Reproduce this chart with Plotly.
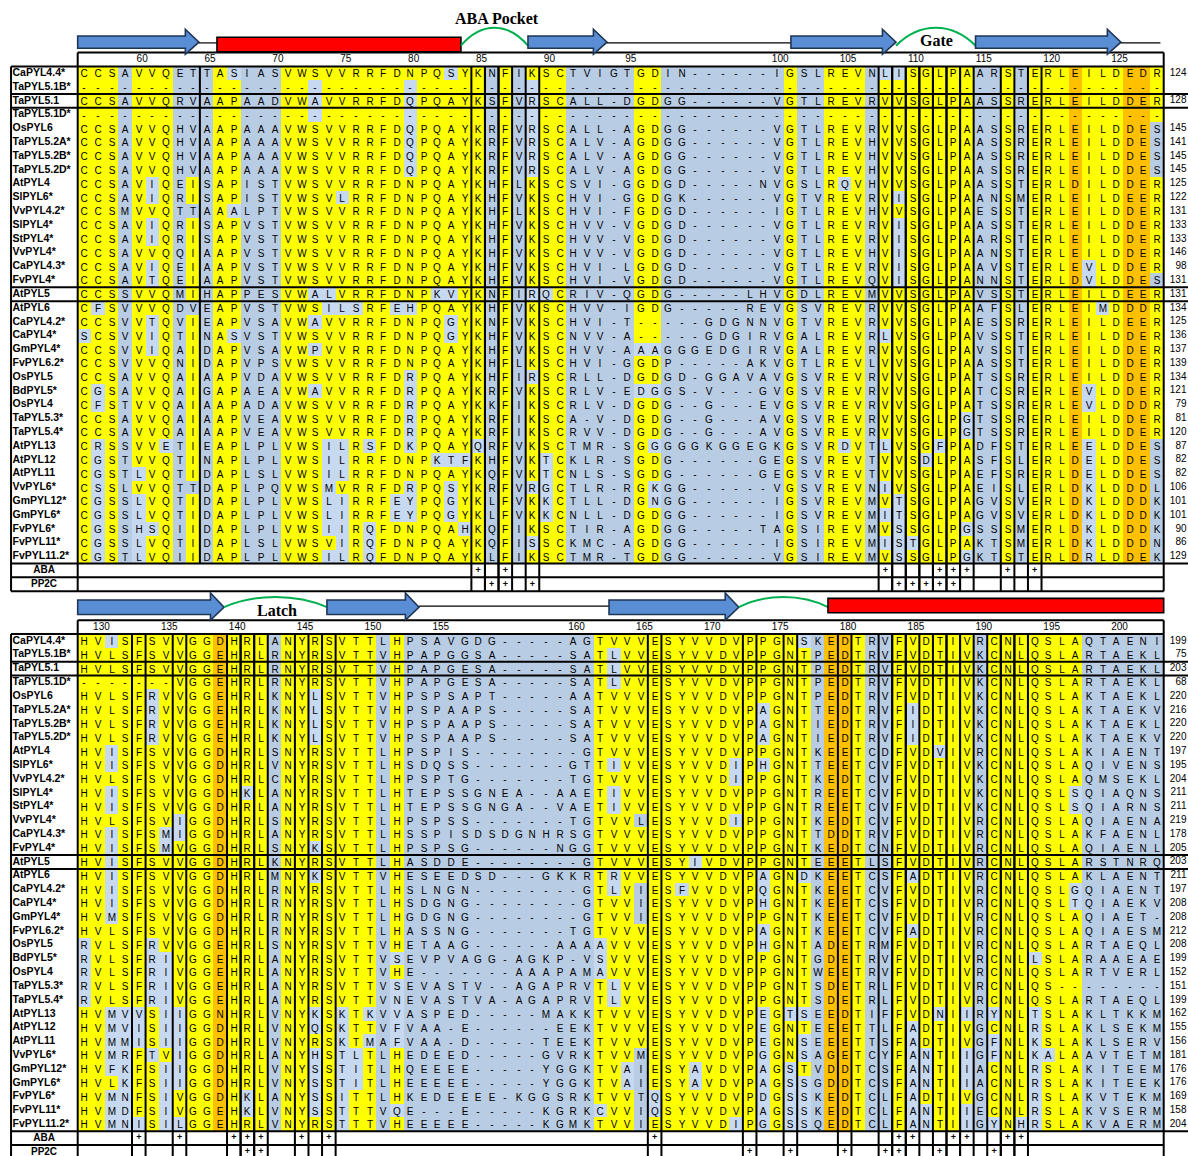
import plotly.graph_objects as go

# ------------------------------------------------------------------
# Alignment data
# ------------------------------------------------------------------
row_names = [
    "CaPYL4.4*", "TaPYL5.1B*", "TaPYL5.1", "TaPYL5.1D*", "OsPYL6", "TaPYL5.2A*",
    "TaPYL5.2B*", "TaPYL5.2D*", "AtPYL4", "SlPYL6*", "VvPYL4.2*", "SlPYL4*",
    "StPYL4*", "VvPYL4*", "CaPYL4.3*", "FvPYL4*", "AtPYL5", "AtPYL6",
    "CaPYL4.2*", "CaPYL4*", "GmPYL4*", "FvPYL6.2*", "OsPYL5", "BdPYL5*",
    "OsPYL4", "TaPYL5.3*", "TaPYL5.4*", "AtPYL13", "AtPYL12", "AtPYL11",
    "VvPYL6*", "GmPYL12*", "GmPYL6*", "FvPYL6*", "FvPYL11*", "FvPYL11.2*",
]

GAP80 = "-" * 80

top_seqs = [
    "CCSAVVQET" "TASIASVWSVVRRFDNPQSY" "KNFIKSCTVI" "GTGDIN------IGSLREVN" "LISGLPAARSTERLEILDEDR",
    GAP80,
    "CCSAVVQRV" "AAPAADVWAVVRRFDQPQAY" "KSFVRSCALL" "-DGDGG------VGTLREVR" "VVSGLPAASSRERLEILDDER",
    GAP80,
    "CCSAVVQHV" "AAPAAAVWSVVRRFDQPQAY" "KRFVRSCALL" "-AGDGG------VGTLREVR" "VVSGLPAASSRERLEILDDES",
    "CCSAVVQHV" "AAPAAAVWSVVRRFDQPQAY" "KRFVRSCALV" "-AGDGG------VGTLREVH" "VVSGLPAASSRERLEILDDES",
    "CCSAVVQHV" "AAPAAAVWSVVRRFDQPQAY" "KRFVRSCALV" "-AGDGG------VGTLREVH" "VVSGLPAASSRERLEILDDES",
    "CCSAVVQHV" "AAPAAAVWSVVRRFDQPQAY" "KRFVRSCALV" "-AGDGG------VGTLREVH" "VVSGLPAASSRERLEILDDES",
    "CCSAVIQEI" "SAPISTVWSVVRRFDNPQAY" "KHFLKSCSVI" "-GGDGD-----NVGSLRQVH" "VVSGLPAASSTERLDILDDER",
    "CCSAVIQRI" "SAPISTVWSVLRRFDNPQAY" "KHFVKSCHVI" "-GGDGK------VGTVREVR" "VISGLPAANSMERLEILDEER",
    "CCSMVVQTT" "AAALPTVWSVVRRFDNPQAY" "KHFLKSCHVI" "-FGDGD------IGTLREVH" "VVSGLPAESSTERLEILDDER",
    "CCSAVIQRI" "SAPVSTVWSVVRRFDNPQAY" "KHFVKSCHVV" "-VGDGD------VGTLREVR" "VISGLPAASSTERLEILDDER",
    "CCSAVIQRI" "SAPVSTVWSVVRRFDNPQAY" "KHFVKSCHVV" "-VGDGD------VGTLREVR" "VISGLPAARSTERLEILDDER",
    "CCSAVVQQI" "AAPVSTVWSVVRRFDNPQAY" "KHFVKSCHVV" "-VGDGD------VGTLREVH" "VISGLPAANSTERLEILDDER",
    "CCSAVIQEI" "AAPVSTVWSVVRRFDNPQAY" "KHFVKSCHVI" "-LGDGD------VGTLREVR" "VISGLPAAVSTERLEVLDDER",
    "CCSAVTQEI" "AAPVSTVWSVVRRFDNPQAY" "KHFVKSCHVI" "-VGDGD------VGTLREVQ" "VISGLPANNSTERLDVLDDES",
    "CCSSVVQMI" "HAPPESVWALVRRFDNPKVY" "KNFIRQCRIV" "-QGDG-----LHVGDLREVM" "VVSGLPAVSSTERLEILDEER",
    "CFSVVVQDV" "EAPVSTVWSILSRFEHPQAY" "KHFVKSCHVV" "-IGDG-----REVGSVREVR" "VVSGLPAAFSLERLEIMDDDR",
    "CCSVVTQVI" "EAPVSAVWAVVRRFDNPQGY" "KNFVKSCHVI" "-T-----GDGNNVGTVREVR" "VVSGLPAESSRERLEILDEER",
    "SCSVVIQTI" "NASVSTVWSVVRRFDNPQGY" "KHFVKSCNVV" "-A-----GDGIRVGALREVR" "LVSGLPAVSSTERLEILDDER",
    "CCSVVIQAI" "DAPVSAVWPVVRRFDNPQAY" "KHFVKSCHVV" "-AAAGGGEDGIRVGALREVR" "VVSGLPAVSSTERLEILDDER",
    "CCSVVVQNI" "DAPVPSVWSVVRRFDNPQAY" "KHFLKSCHVI" "-GGDP-----AKVGTLREVL" "VVSGLPAASSTERLEILDDER",
    "CCSAVVQAI" "AAPVDAVWSVVRRFDRPQAY" "KHFIRSCRLL" "-DGDGD-GGAVAVGSVREVR" "VVSGLPATSSRERLEILDDER",
    "CGSAVVQAI" "GAPAEAVWAVVRRFDRPQAY" "KRFVKSCRLV" "-EDGGS-V---GVGSVREVR" "VVSGLPATCSRERLEVLDDER",
    "CFSTVVQAI" "AAPADAVWSVVRRFDRPQAY" "KKFIKSCRLV" "-DGDG--G---EVGSVREVR" "VVSGLPATSSRERLEVLDDDR",
    "CCSAVVQAI" "AAPVEAVWSVVRRFDRPQAY" "KRFIKSCA-V" "-DGDG--G---AVGSVREVR" "VVSGLPGTSSRERLEILDDER",
    "CCSAVVQAI" "AAPVEAVWSVVRRFDRPQAY" "KRFIKSCRVV" "-DGDG--G---AVGSVREVR" "VVSGLPGTSSRERLEILDDER",
    "CRSSVVETI" "EAPLPLVWSILRSFDKPQAY" "QRFVKSCTMR" "-SGGGGGKGGEGKGSVRDVT" "LVSGFPADFSTERLEELDDES",
    "CGSTVVQTI" "NAPLPLVWSILRRFDNPKTF" "KHFVKTCKLR" "-SGDG------GEGSVREVT" "VVSDLPASFSLERLDELDDES",
    "CGSTLVQTI" "DAPLSLVWSILRRFDNPQAY" "KQFVKTCNLS" "-SGDG------GEGSVREVT" "VVSGLPAEFSRERLDELDDES",
    "CSSLVVQTT" "DAPLPQVWSMVRRFDRPQSY" "KRFVRGCTLR" "-RGKGG------VGSVREVN" "IVSGLPAEISLERLDKLDDDL",
    "CGSSLVQTI" "DAPLPLVWSLIRRFEYPQGY" "KLFVKKCTLL" "-DGNGG------IGSVREVM" "VTSGLPAGVSVERLDKLDDDK",
    "CGSSLVQTI" "DAPLPLVWSLIRRFEYPQGY" "KLFVKKCNLL" "-DGDGG------IGSVREVM" "ITSGLPAGVSVERLDKLDDDK",
    "CGSSHSQII" "DAPLPLVWSIIRQFDNPQAH" "KQFIKSCTIR" "-AGDGG-----TAGSIREVM" "VSSGLPGSSSMERLDKLDDDK",
    "CGSSLVQTI" "DAPLSLVWSVIRQFDNPQAY" "KQFISSCKMC" "-AGDGG------IGSIREVM" "ISTGLPAKTSMERLDKLDDDN",
    "CGSTLVQII" "DAPLPLVWSILRQFDNPQAY" "KLFIKSCTMR" "-TGDGG------VGSIREVM" "VSSGLPGKTSTERLDRLDDEK",
]

bottom_seqs = [
    "HVISFSVVGG" "DHRLANYRSV" "TTLHPSAVGD" "G-----AGTV" "VVESYVVDVP" "PGNSKEDTRV" "FVDTIVRCNL" "QSLAQTAENI",
    "HVLSFSVVGG" "EHRLRNYRSV" "TTVHPAPGGS" "A-----SATL" "VVESYVVDVP" "PGNTPEDTRV" "FVDTIVKCNL" "QSLARTAEKL",
    "HVLSFSVVGG" "EHRLRNYRSV" "TTVHPAPGES" "A-----SATL" "VVESYVVDVP" "PGNTPEDTRV" "FVDTIVKCNL" "QSLARTAEKL",
    "-------VGG" "EHRLRNYRSV" "TTVHPAPGES" "A-----SATL" "VVESYVVDVP" "PGNTPEDTRV" "FVDTIVKCNL" "QSLARTAEKL",
    "HVLSFRVVGG" "EHRLKNYLSV" "TTVHPSPSAP" "T-----AATV" "VVESYVVDVP" "PGNTPEDTRV" "FVDTIVKCNL" "QSLAKTAEKL",
    "HVLSFRVVGG" "EHRLKNYLSV" "TTVHPSPAAP" "S-----SATV" "VVESYVVDVP" "AGNTTEDTRV" "FIDTIVKCNL" "QSLAKTAEKV",
    "HVLSFRVVGG" "EHRLKNYLSV" "TTVHPSPAAP" "S-----SATV" "VVESYVVDVP" "AGNTIEDTRV" "FIDTIVKCNL" "QSLAKTAEKL",
    "HVLSFRVVGG" "EHRLKNYLSV" "TTVHPSPAAP" "S-----SATV" "VVESYVVDVP" "AGNTIEDTRV" "FIDTIVKCNL" "QSLAKTAEKV",
    "HVISFSVVGG" "DHRLSNYRSV" "TTLHPSPIS-" "-------GTV" "VVESYVVDVP" "PGNTKEETCD" "FVDVIVRCNL" "QSLAKIAENT",
    "HVISFSVVGG" "DHRLVNYRSV" "TTLHSDQSS-" "------GTTI" "VVESYVVDIP" "HGNTTEETCV" "FVDTIVKCNL" "QSLAQIVENS",
    "HVLSFSVVGG" "DHRLCNYRSV" "TTLHPSPTG-" "------TGTV" "VVESYVVDIP" "PGNTKEDTCV" "FVDTIVKCNL" "QSLAQMSEKL",
    "HVISFSVVGG" "DHKLANYRSV" "TTLHTEPSSG" "NEA--AAETI" "VVESYVVDVP" "PGNTREETCV" "FVDTIVKCNL" "QSLSQIAQNS",
    "HVISFSVVGG" "DHRLANYRSV" "TTLHTEPSSG" "NGA--VAETI" "VVESYVVDVP" "PGNTREETCV" "FVDTIVKCNL" "QSLSQIARNS",
    "HVLSFSVIGG" "DHRLSNYRSV" "TTLHPSPSS-" "------TGTV" "VLESYVVDIP" "PGNTKEDTCV" "FVDTIVRCNL" "QSLAQIAENA",
    "HVISFSMIGG" "DHRLANYRSV" "TTLHSSPISD" "SDGNHRSGTV" "VVESYVVDVP" "PGNTTDDTRV" "FVDTIVRCNL" "QSLAKFAENL",
    "HVISFSMVGG" "DHRLSNYKSV" "TTLHPSPSG-" "-----NGGTV" "VVESYVVDVP" "PGNTKEDTCN" "FVDTIVRCNL" "QSLAQIAENL",
    "HVISFSVVGG" "DHRLKNYRSV" "TTLHASDDE-" "-------GTV" "VVESYIVDVP" "PGNTEEETLS" "FVDTIVRCNL" "QSLARSTNRQ",
    "HVISFSVVGG" "DHRLMNYKSV" "TTVHESEEDS" "D---GKKRTR" "VVESYVVDVP" "AGNDKEETCS" "FADTIVRCNL" "QSLAKLAENT",
    "HVISFSVVGG" "DHRLRNYRSV" "TTLHSLNGN-" "-------GTL" "VIESFVVDVP" "QGNTKEETCV" "FVDTIVRCNL" "QSLGQIAENT",
    "HVISFSVVGG" "DHRLRNYRSV" "TTLHSDGNG-" "-------GTV" "VIESYVVDVP" "HGNTKEETCS" "FVDTIVRCNL" "QSLTQIAEKV",
    "HVMSFSVVGG" "DHRLRNYRSV" "TTLHGDGNG-" "-------GTV" "VIESYVVDVP" "PGNTKEETCV" "FVDTIVRCNL" "QSLAQIAET-",
    "HVLSFSVVGG" "DHRLRNYRSV" "TTLHASSNG-" "------TGTV" "VVESYVVDVP" "AGNTKEETCV" "FADTIVRCNL" "QSLAQIAESM",
    "RVLSFRVVGG" "EHRLSNYRSV" "TTVHETAAG-" "-----AAAAV" "VVESYVVDVP" "HGNTADETRM" "FVDTIVRCNL" "QSLARTAEQL",
    "RVLSFRIVGG" "EHRLANYRSV" "TTVSEVPVAG" "G-AGKP-VSV" "VVESYVVDVP" "PGNTGDETRV" "FVDTIVRCNL" "LSLARAAEAE",
    "RVLSFRIVGG" "EHRLANYRSV" "TTVHE-----" "--AAAPAMAV" "VVESYVVDVP" "PGNTWEETRV" "FVDTIVRCNL" "QSLARTVERL",
    "RVLSFRIVGG" "EHRLANYRSV" "TTVSEVASTV" "--AGAPRVTL" "VVESYVVDVP" "PGNTSDETRL" "FVDTIVRCNL" "QS--------",
    "RVLSFRIVGG" "EHRLANYRSV" "TTVNEVASTV" "A-AGAPRVTL" "VVESYVVDVP" "PGNTSDETRL" "FVDTIVRCNL" "QSLARTAEQL",
    "HVMVVSIIGG" "NHRLVNYKSK" "TKVVASPED-" "----MAKKTV" "VVESYVVDVP" "EGTSEEDTIF" "FVDNIIRYNL" "TSLAKLTKKM",
    "HVMVISIIGG" "DHRLVNYQSK" "TTVFVAA-E-" "-----EEKTV" "VVESYVVDVP" "EGNTEEETTL" "FADTIVGCNL" "RSLAKLSEKM",
    "HVMMISIIGG" "DHRLVNYRSK" "TMAFVAA-D-" "----TEEKTV" "VVESYVVDVP" "EGNSEEETTS" "FADTIVGFNL" "KSLAKLSERV",
    "HVMRFTVIGG" "DHRLANYHST" "LTLHEDEED-" "----GVRKTV" "VMESYVVDVP" "GGNSAGETCY" "FANTIIGFNL" "KALAAVTETM",
    "HVFKFSIIGG" "DHRLVNYSST" "ITLHQEEEE-" "----YGGKTV" "AIESYAVDVP" "AGSTVDDTCS" "FANTIIACNL" "RSLAKITEEM",
    "HVLKFSIIGG" "DHRLVNYSST" "ITLHEEEEE-" "----YGGKTV" "AIESYAVDVP" "AGSSGDDTCS" "FANTIIACNL" "RSLAKITEEK",
    "HVMNFSIVGG" "DHKLANYSSI" "TTLHKEDEEE" "E-KGGSRKTV" "VTQSYVVDVP" "DGSSKEDTCL" "FADTIVGCNL" "RSLAKVTEKM",
    "HVMDFSIVGG" "EHKLVNYSST" "TTVQE---E-" "----KGRKCV" "VIQSYVVDVP" "AGSSKEDTCL" "FANTIIECNL" "RSLAKVSERM",
    "HVMNISILGG" "EHRLVNYRST" "TTVHEEEEE-" "----KGMKTV" "VIESYVVDIP" "GGSSQEDTCL" "FANTIIGYNH" "RSLAKVAERM",
]

top_lengths = [124, None, 128, None, 145, 141, 145, 145, 125, 122, 131, 133, 133, 146, 98, 131,
               131, 134, 125, 136, 137, 139, 134, 121, 79, 81, 120, 87, 82, 82, 106, 101, 101, 90, 86, 129]
bottom_lengths = [199, 75, 203, 68, 220, 216, 220, 220, 197, 195, 204, 211, 211, 219, 178, 205,
                  203, 211, 197, 208, 208, 212, 208, 199, 152, 151, 199, 162, 155, 156, 181, 176, 176, 169, 158, 204]

top_tick_labels = [60, 65, 70, 75, 80, 85, 90, 95, 100, 105, 110, 115, 120, 125]
top_tick_cols = [4, 9, 14, 19, 24, 29, 34, 40, 51, 56, 61, 66, 71, 76]
bottom_tick_labels = [130, 135, 140, 145, 150, 155, 160, 165, 170, 175, 180, 185, 190, 195, 200]
bottom_tick_cols = [1, 6, 11, 16, 21, 26, 36, 41, 46, 51, 56, 61, 66, 71, 76]

# residues contacting ABA / PP2C
top_aba_cols = [29, 31, 59, 63, 64, 65, 68, 70]
top_pp2c_cols = [30, 31, 33, 60, 61, 62, 63, 64]
bottom_aba_cols = [4, 7, 11, 12, 13, 16, 18, 42, 60, 61, 64, 65, 68, 69]
bottom_pp2c_cols = [12, 13, 49, 52, 56, 59, 60, 63, 67]

# conserved positions
top_conserved_cols = [0, 1, 2, 4, 5, 6, 10, 11, 15, 16, 17, 18, 19, 20, 21, 22, 23, 24, 25, 26, 27,
                      28, 29, 31, 33, 34, 35, 41, 42, 52, 55, 56, 57, 59, 60, 61, 62, 63, 64, 65,
                      68, 70, 71, 72, 74, 75, 76]
top_strict_cols = [8, 79]
top_key_cols = [73, 77, 78]
bottom_conserved_cols = [0, 1, 2, 3, 4, 5, 6, 7, 8, 9, 11, 12, 13, 15, 16, 17, 18, 19, 20, 21, 23,
                         38, 39, 40, 42, 43, 44, 45, 46, 47, 48, 49, 50, 51, 52, 53, 57, 60, 61, 62,
                         63, 64, 65, 67, 68, 69, 70, 71, 72, 73]
bottom_strict_cols = [41]
bottom_key_cols = [10, 55, 56]

group_breaks = [1, 2, 15, 16]          # thick rules drawn below these rows
homolog_of = {"TaPYL5.1B*": "TaPYL5.1", "TaPYL5.1D*": "TaPYL5.1"}

# secondary structure (column spans)
top_structure = [
    ("strand", -0.5, 8.43), ("coil", 8.43, 9.76), ("helix", 9.76, 27.73),
    ("loop", 27.73, 32.67), ("strand", 32.67, 38.49), ("coil", 38.49, 52.04),
    ("strand", 52.04, 59.78), ("loop", 59.78, 65.64), ("strand", 65.64, 76.35),
    ("coil", 76.35, 79.26),
]
top_region_labels = [("ABA Pocket", 30.42, -4.0), ("Gate", 62.78, -2.41)]
bottom_structure = [
    ("strand", -0.5, 10.28), ("loop", 10.28, 17.86), ("strand", 17.86, 24.64),
    ("coil", 24.64, 38.64), ("strand", 38.64, 48.2), ("loop", 48.2, 54.77),
    ("helix", 54.77, 79.5),
]
bottom_region_labels = [("Latch", 14.2, -2.19)]

# ------------------------------------------------------------------
# Styling
# ------------------------------------------------------------------
STEEL = "#B8CCE4"
PALE = "#C6D9F1"
YELLOW = "#FFFF00"
ORANGE = "#FFC000"
ARROW_FILL = "#5A8ED4"
ARROW_EDGE = "#1F3556"
LOOP_GREEN = "#00B050"
HELIX_RED = "#FF0000"
SANS = "Liberation Sans, Arial, sans-serif"
SERIF = "Liberation Serif, Times New Roman, serif"

NCOL = 80
NROW = len(row_names)
BOTTOM_OFFSET = 41.11
X_RANGE = [-6.224, 81.29]
Y_RANGE = [78.40, -5.308]
LABEL_LEFT = -5.41

top_geom = dict(body=(-2.70, -1.81), head=(-3.19, -1.38), helix=(-2.61, -1.56),
                coil=-2.20, loop_end=-2.0, loop_peak=-3.3)
bottom_geom = dict(body=(-2.97, -1.92), head=(-3.48, -1.52), helix=(-3.09, -2.05),
                   coil=-2.53, loop_end=-2.46, loop_peak=-3.19)

for s in top_seqs + bottom_seqs:
    assert len(s) == NCOL, (len(s), s)


def consensus(seqs, col):
    counts = {}
    for s in seqs:
        ch = s[col]
        if ch != "-":
            counts[ch] = counts.get(ch, 0) + 1
    return max(counts, key=counts.get) if counts else "-"


def colour_classes(seqs, conserved, strict, key):
    cons = [consensus(seqs, c) for c in range(NCOL)]
    grid = []
    for s in seqs:
        row = []
        for c, ch in enumerate(s):
            if c in key:
                v = 3
            elif c in conserved:
                v = 2 if (ch == cons[c] or ch == "-") else 1
            elif c in strict:
                v = 2 if ch == cons[c] else 0
            else:
                v = 0
            row.append(v)
        grid.append(row)
    # gap-only rows share the shading of their homologue
    for i, name in enumerate(row_names):
        if set(seqs[i]) == {"-"} and name in homolog_of:
            grid[i] = list(grid[row_names.index(homolog_of[name])])
    return grid


colorscale = [[0, STEEL], [0.25, STEEL], [0.25, PALE], [0.5, PALE],
              [0.5, YELLOW], [0.75, YELLOW], [0.75, ORANGE], [1, ORANGE]]

fig = go.Figure()
shapes = []
annotations = []


def line(x0, y0, x1, y1, w=2, color="black"):
    shapes.append(dict(type="line", xref="x", yref="y", x0=x0, y0=y0, x1=x1, y1=y1,
                       line=dict(color=color, width=w), layer="above"))


def draw_structure(elements, labels, off, g):
    for kind, a, b in elements:
        if kind == "strand":
            hb = b - 1.0
            bt, bb = g["body"]
            ht, hbm = g["head"]
            mid = (bt + bb) / 2
            path = (f"M {a},{bt+off} L {hb},{bt+off} L {hb},{ht+off} L {b},{mid+off} "
                    f"L {hb},{hbm+off} L {hb},{bb+off} L {a},{bb+off} Z")
            shapes.append(dict(type="path", xref="x", yref="y", path=path,
                               fillcolor=ARROW_FILL, line=dict(color=ARROW_EDGE, width=1.6),
                               layer="above"))
        elif kind == "helix":
            t, bt = g["helix"]
            shapes.append(dict(type="rect", xref="x", yref="y", x0=a, x1=b, y0=t + off, y1=bt + off,
                               fillcolor=HELIX_RED, line=dict(color="black", width=1.6),
                               layer="above"))
        elif kind == "coil":
            line(a, g["coil"] + off, b, g["coil"] + off, w=1.2)
        elif kind == "loop":
            y0 = g["loop_end"] + off
            yc = g["loop_end"] + (g["loop_peak"] - g["loop_end"]) / 0.75 + off
            span = b - a
            path = f"M {a},{y0} C {a+0.3*span},{yc} {b-0.3*span},{yc} {b},{y0}"
            shapes.append(dict(type="path", xref="x", yref="y", path=path,
                               line=dict(color=LOOP_GREEN, width=2), layer="above"))
    for text, x, y in labels:
        annotations.append(dict(x=x, y=y + off, xref="x", yref="y", text=f"<b>{text}</b>",
                                showarrow=False, font=dict(family=SERIF, size=16, color="black")))


def draw_block(seqs, lengths, off, conserved, strict, key, aba, pp2c,
               tick_labels, tick_cols, structure, region_labels, geom, extra_rules=()):
    grid = colour_classes(seqs, conserved, strict, key)
    ys = [off + r for r in range(NROW)]
    fig.add_trace(go.Heatmap(
        z=grid, x=list(range(NCOL)), y=ys, text=[list(s) for s in seqs],
        texttemplate="%{text}", textfont=dict(family=SANS, size=10, color="black"),
        colorscale=colorscale, zmin=-0.5, zmax=3.5, showscale=False, hoverinfo="skip",
        xgap=0, ygap=0))

    # sequence names
    fig.add_trace(go.Scatter(
        x=[-5.3] * NROW, y=ys, mode="text", text=[f"<b>{n}</b>" for n in row_names],
        textposition="middle right", textfont=dict(family=SANS, size=10.5, color="black"),
        cliponaxis=False, hoverinfo="skip"))

    # residue counts at the right
    lx, ly, lt = [], [], []
    for r, v in enumerate(lengths):
        if v is not None:
            lx.append(81.18)
            ly.append(off + r)
            lt.append(str(v))
    fig.add_trace(go.Scatter(
        x=lx, y=ly, mode="text", text=lt, textposition="middle left",
        textfont=dict(family=SANS, size=10, color="black"), cliponaxis=False, hoverinfo="skip"))

    # position numbering
    fig.add_trace(go.Scatter(
        x=[c + 0.25 for c in tick_cols], y=[off - 1] * len(tick_cols), mode="text",
        text=[str(t) for t in tick_labels], textposition="middle center",
        textfont=dict(family=SANS, size=10, color="black"), cliponaxis=False, hoverinfo="skip"))

    # interaction rows
    aba_y, pp_y = off + NROW, off + NROW + 1
    fig.add_trace(go.Scatter(
        x=[-2.98, -2.98], y=[aba_y, pp_y], mode="text", text=["<b>ABA</b>", "<b>PP2C</b>"],
        textposition="middle center", textfont=dict(family=SANS, size=10, color="black"),
        cliponaxis=False, hoverinfo="skip"))
    fig.add_trace(go.Scatter(
        x=list(aba) + list(pp2c), y=[aba_y] * len(aba) + [pp_y] * len(pp2c), mode="text",
        text=["<b>+</b>"] * (len(aba) + len(pp2c)), textposition="middle center",
        textfont=dict(family=SANS, size=9, color="black"), cliponaxis=False, hoverinfo="skip"))

    # table frame
    bottom = NROW + 1.5
    line(-0.5, off - 1.5, 79.5, off - 1.5)
    line(LABEL_LEFT, off - 0.5, 79.5, off - 0.5)
    for r in group_breaks:
        line(LABEL_LEFT, off + r + 0.5, X_RANGE[1], off + r + 0.5)
    line(LABEL_LEFT, off + NROW - 0.5, X_RANGE[1], off + NROW - 0.5)
    line(LABEL_LEFT, off + NROW + 0.5, 79.5, off + NROW + 0.5)
    line(LABEL_LEFT, off + bottom, 79.5, off + bottom)
    line(LABEL_LEFT, off - 0.5, LABEL_LEFT, off + bottom)
    line(-0.5, off - 1.5, -0.5, off + bottom)
    line(79.5, off - 1.5, 79.5, off + bottom)
    for c in sorted(set(aba) | set(pp2c)):
        line(c - 0.5, off - 0.5, c - 0.5, off + bottom)
        line(c + 0.5, off - 0.5, c + 0.5, off + bottom)
    for xb in extra_rules:
        line(xb, off - 0.5, xb, off + NROW - 0.5)

    draw_structure(structure, region_labels, off, geom)


draw_block(top_seqs, top_lengths, 0.0, top_conserved_cols, top_strict_cols, top_key_cols,
           top_aba_cols, top_pp2c_cols, top_tick_labels, top_tick_cols,
           top_structure, top_region_labels, top_geom, extra_rules=(8.5,))
draw_block(bottom_seqs, bottom_lengths, BOTTOM_OFFSET, bottom_conserved_cols, bottom_strict_cols,
           bottom_key_cols, bottom_aba_cols, bottom_pp2c_cols, bottom_tick_labels, bottom_tick_cols,
           bottom_structure, bottom_region_labels, bottom_geom)

fig.update_layout(
    width=1188, height=1156, margin=dict(l=0, r=0, t=0, b=0),
    paper_bgcolor="white", plot_bgcolor="white", showlegend=False,
    xaxis=dict(range=X_RANGE, visible=False, fixedrange=True),
    yaxis=dict(range=Y_RANGE, visible=False, fixedrange=True),
    shapes=shapes, annotations=annotations,
)

fig.write_html("out.html")
